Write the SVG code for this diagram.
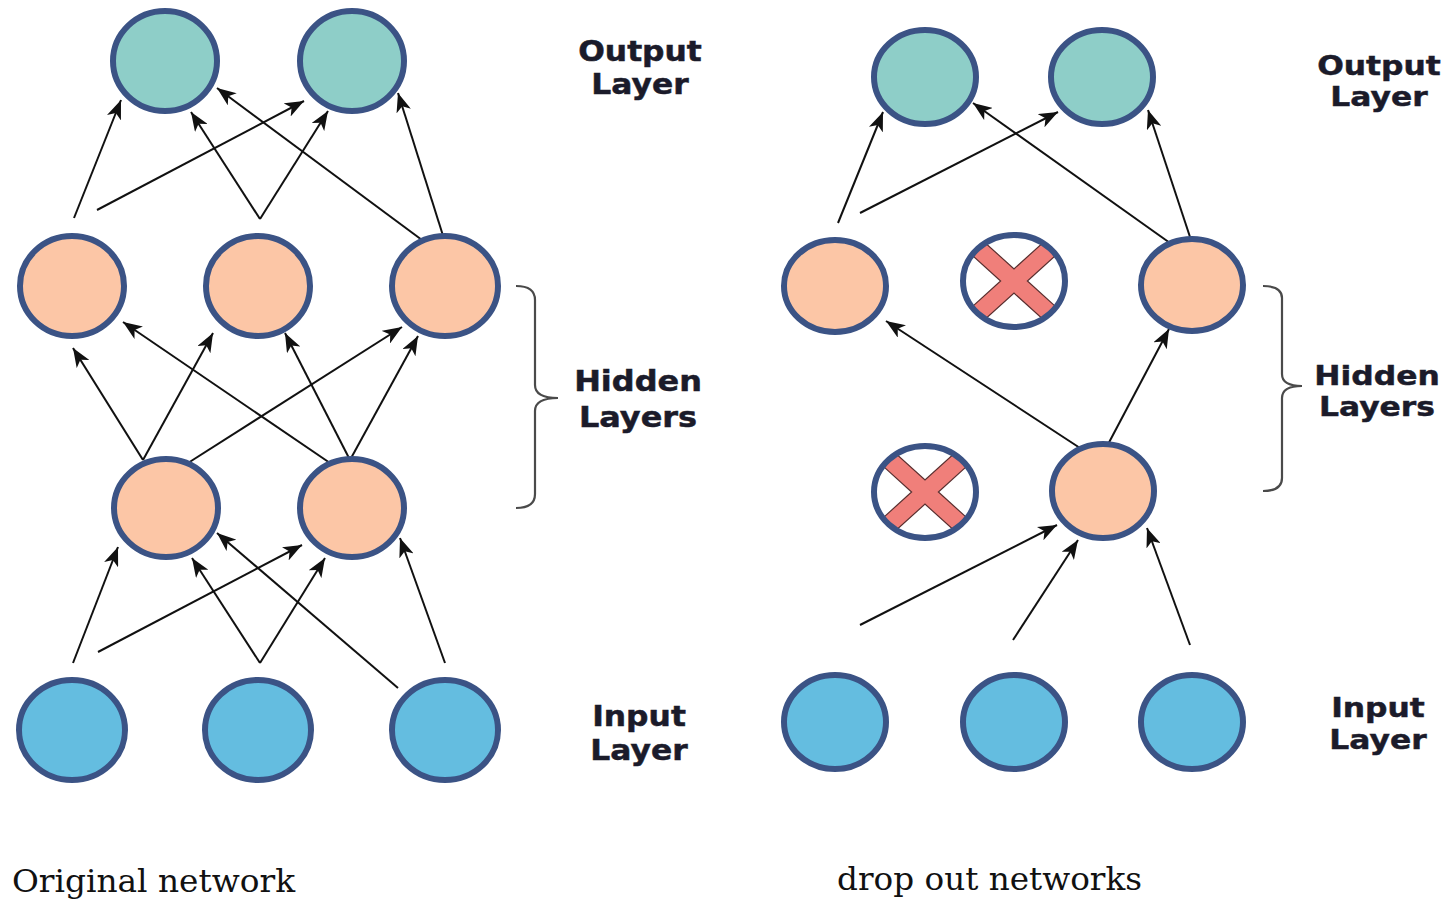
<svg xmlns="http://www.w3.org/2000/svg" width="1448" height="903" viewBox="0 0 1448 903">
<style>
.n{stroke:#3b5385;stroke-width:6}
.out{fill:#8ecec8}
.hid{fill:#fcc6a6}
.inp{fill:#64bde0}
.drop{fill:#ffffff}
.ring{fill:none;stroke:#3b5385;stroke-width:6}
.x{fill:#f07f7a;stroke:#5a3030;stroke-width:1.2}
.c line{stroke:#111;stroke-width:2;marker-end:url(#ah)}
.lbl{font-family:"DejaVu Sans",Verdana,sans-serif;font-weight:bold;font-size:28px;fill:#1b1b2a;stroke:#1b1b2a;stroke-width:0.5;text-anchor:middle}
.cap{font-family:"DejaVu Serif","Liberation Serif",serif;font-size:31px;fill:#111}
.br{fill:none;stroke:#4a4a4a;stroke-width:2.2}
</style>
<defs>
<marker id="ah" markerUnits="userSpaceOnUse" markerWidth="20" markerHeight="15" refX="19" refY="7.5" orient="auto">
<path d="M0,0 L19,7.5 L0,15 L5,7.5 Z" fill="#111"/>
</marker>
<clipPath id="clipA"><ellipse cx="1014" cy="281" rx="50" ry="45"/></clipPath>
<clipPath id="clipB"><ellipse cx="925" cy="492" rx="50" ry="45"/></clipPath>
</defs>
<rect width="1448" height="903" fill="#ffffff"/>

<g id="connectors" class="c">
<line x1="74" y1="218" x2="121" y2="100"/>
<line x1="97" y1="210" x2="304" y2="101"/>
<line x1="260" y1="219" x2="191" y2="112"/>
<line x1="260" y1="219" x2="328" y2="111"/>
<line x1="422" y1="240" x2="217" y2="88"/>
<line x1="445" y1="242" x2="398" y2="93"/>
<line x1="143" y1="460" x2="73" y2="348"/>
<line x1="143" y1="460" x2="213" y2="333"/>
<line x1="188" y1="463" x2="402" y2="327"/>
<line x1="350" y1="460" x2="285" y2="333"/>
<line x1="350" y1="460" x2="418" y2="336"/>
<line x1="330" y1="463" x2="123" y2="322"/>
<line x1="73" y1="663" x2="118" y2="547"/>
<line x1="98" y1="652" x2="302" y2="545"/>
<line x1="260" y1="663" x2="192" y2="558"/>
<line x1="260" y1="663" x2="325" y2="558"/>
<line x1="398" y1="688" x2="217" y2="533"/>
<line x1="445" y1="663" x2="400" y2="538"/>
<line x1="838" y1="223" x2="883" y2="112"/>
<line x1="860" y1="213" x2="1058" y2="112"/>
<line x1="1170" y1="243" x2="973" y2="103"/>
<line x1="1192" y1="243" x2="1148" y2="110"/>
<line x1="1080" y1="448" x2="886" y2="321"/>
<line x1="1105" y1="450" x2="1169" y2="329"/>
<line x1="860" y1="625" x2="1057" y2="525"/>
<line x1="1013" y1="640" x2="1078" y2="540"/>
<line x1="1190" y1="645" x2="1147" y2="528"/>
</g>

<g id="orig-out-1"><ellipse class="n out" cx="165" cy="61" rx="52" ry="50"/></g>
<g id="orig-out-2"><ellipse class="n out" cx="352" cy="61" rx="52" ry="50"/></g>
<g id="orig-h1-1"><ellipse class="n hid" cx="72" cy="286" rx="52" ry="50"/></g>
<g id="orig-h1-2"><ellipse class="n hid" cx="258" cy="286" rx="52" ry="50"/></g>
<g id="orig-h1-3"><ellipse class="n hid" cx="445" cy="286" rx="53" ry="50"/></g>
<g id="orig-h2-1"><ellipse class="n hid" cx="166" cy="508" rx="52" ry="49"/></g>
<g id="orig-h2-2"><ellipse class="n hid" cx="352" cy="508" rx="52" ry="49"/></g>
<g id="orig-in-1"><ellipse class="n inp" cx="72" cy="730" rx="53" ry="50"/></g>
<g id="orig-in-2"><ellipse class="n inp" cx="258" cy="730" rx="53" ry="50"/></g>
<g id="orig-in-3"><ellipse class="n inp" cx="445" cy="730" rx="53" ry="50"/></g>

<g id="drop-out-1"><ellipse class="n out" cx="925" cy="77" rx="51" ry="47"/></g>
<g id="drop-out-2"><ellipse class="n out" cx="1102" cy="77" rx="51" ry="47"/></g>
<g id="drop-h1-1"><ellipse class="n hid" cx="835" cy="286" rx="51" ry="46"/></g>
<g id="drop-h1-2">
<ellipse class="drop" cx="1014" cy="281" rx="51" ry="46"/>
<g clip-path="url(#clipA)"><path class="x" transform="translate(1014,281) scale(1.05,0.95) rotate(45)" d="M-9,-52 H9 V-9 H52 V9 H9 V52 H-9 V9 H-52 V-9 H-9Z"/></g>
<ellipse class="ring" cx="1014" cy="281" rx="51" ry="46"/>
</g>
<g id="drop-h1-3"><ellipse class="n hid" cx="1192" cy="285" rx="51" ry="46"/></g>
<g id="drop-h2-1">
<ellipse class="drop" cx="925" cy="492" rx="51" ry="46"/>
<g clip-path="url(#clipB)"><path class="x" transform="translate(925,492) scale(1.05,0.95) rotate(45)" d="M-9,-52 H9 V-9 H52 V9 H9 V52 H-9 V9 H-52 V-9 H-9Z"/></g>
<ellipse class="ring" cx="925" cy="492" rx="51" ry="46"/>
</g>
<g id="drop-h2-2"><ellipse class="n hid" cx="1103" cy="491" rx="51" ry="47"/></g>
<g id="drop-in-1"><ellipse class="n inp" cx="835" cy="722" rx="51" ry="47"/></g>
<g id="drop-in-2"><ellipse class="n inp" cx="1014" cy="722" rx="51" ry="47"/></g>
<g id="drop-in-3"><ellipse class="n inp" cx="1192" cy="722" rx="51" ry="47"/></g>

<g id="braces">
<path class="br" d="M516,286 Q535,286 535,300 V385 Q535,398 558,398 Q535,398 535,411 V494 Q535,508 516,508"/>
<path class="br" d="M1263,286 Q1282,286 1282,298 V374 Q1282,386 1302,386 Q1282,386 1282,398 V478 Q1282,491 1263,491"/>
</g>

<g id="labels">
<text class="lbl" transform="translate(640,61) scale(1.12,1)">Output</text>
<text class="lbl" transform="translate(640,94) scale(1.12,1)">Layer</text>
<text class="lbl" transform="translate(638,391) scale(1.14,1)">Hidden</text>
<text class="lbl" transform="translate(638,427) scale(1.14,1)">Layers</text>
<text class="lbl" transform="translate(639,726) scale(1.12,1)">Input</text>
<text class="lbl" transform="translate(639,760) scale(1.12,1)">Layer</text>
<text class="lbl" transform="translate(1379,75) scale(1.12,0.93)">Output</text>
<text class="lbl" transform="translate(1379,106) scale(1.12,0.93)">Layer</text>
<text class="lbl" transform="translate(1377,385) scale(1.12,0.93)">Hidden</text>
<text class="lbl" transform="translate(1377,416) scale(1.12,0.93)">Layers</text>
<text class="lbl" transform="translate(1378,717) scale(1.12,0.93)">Input</text>
<text class="lbl" transform="translate(1378,749) scale(1.12,0.93)">Layer</text>
<text class="cap" x="12" y="892" textLength="283" lengthAdjust="spacingAndGlyphs">Original network</text>
<text class="cap" x="837" y="890" textLength="305" lengthAdjust="spacingAndGlyphs">drop out networks</text>
</g>
</svg>
